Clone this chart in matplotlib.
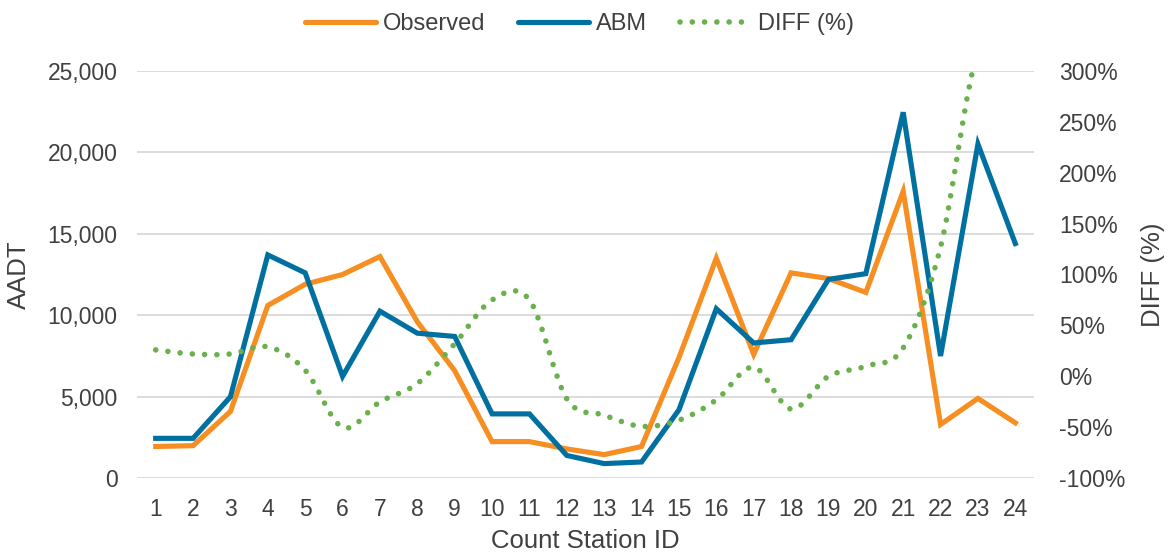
import numpy as np
import matplotlib
matplotlib.use("Agg")
import matplotlib.pyplot as plt
from matplotlib.path import Path
from matplotlib.patches import PathPatch
from matplotlib.lines import Line2D
from matplotlib.ticker import FuncFormatter, MultipleLocator

plt.rcParams['font.family'] = ['Liberation Sans', 'DejaVu Sans']

# data
stations = list(range(1, 25))
observed = [1950, 2000, 4100, 10600, 11900, 12500, 13600, 9600, 6600, 2250, 2250, 1800,
            1450, 1950, 7400, 13500, 7600, 12600, 12250, 11400, 17600, 3300, 4900, 3400]
abm = [2450, 2450, 5000, 13700, 12600, 6250, 10250, 8900, 8700, 3950, 3950, 1400,
       900, 1000, 4200, 10400, 8300, 8500, 12200, 12550, 22450, 7500, 20500, 14400]
diff_pct = [26, 22, 22, 29, 6, -50, -25, -7, 32, 75, 75, -22,
            -38, -49, -43, -23, 9, -32, 0, 10, 28, 127, 318, 324]

c_obs = '#F68E22'
c_abm = '#0070A0'
c_diff = '#6AB04C'
c_text = '#404040'


def smooth_path(x, y):
    # Excel-style smoothed line as cubic Bezier segments through the points
    pts = np.column_stack([x, y]).astype(float)
    verts = [pts[0]]
    codes = [Path.MOVETO]
    n = len(pts)
    for i in range(n - 1):
        p0 = pts[i - 1] if i > 0 else pts[i]
        p1 = pts[i]
        p2 = pts[i + 1]
        p3 = pts[i + 2] if i + 2 < n else pts[i + 1]
        verts += [p1 + (p2 - p0) / 6, p2 - (p3 - p1) / 6, p2]
        codes += [Path.CURVE4] * 3
    return Path(verts, codes)


fig = plt.figure(figsize=(11.71, 5.59), dpi=100)
ax = fig.add_axes([0.117, 0.1444, 0.766, 0.7291])
ax2 = ax.twinx()

ax.plot(stations, observed, color=c_obs, lw=3.7, solid_joinstyle='miter', zorder=3)
ax.plot(stations, abm, color=c_abm, lw=3.7, solid_joinstyle='miter', zorder=3)

dots = (0, (0.01, 2.2))
patch = PathPatch(smooth_path(stations, diff_pct), facecolor='none', edgecolor=c_diff,
                  lw=4.0, linestyle=dots, capstyle='round')
ax2.add_patch(patch)

ax.set_xlim(0.5, 24.5)
ax.set_ylim(0, 25000)
ax2.set_ylim(-100, 300)
ax.set_xticks(stations)
ax.yaxis.set_major_locator(MultipleLocator(5000))
ax2.yaxis.set_major_locator(MultipleLocator(50))
ax.yaxis.set_major_formatter(FuncFormatter(lambda v, p: f'{int(v):,}'))
ax2.yaxis.set_major_formatter(FuncFormatter(lambda v, p: f'{int(v)}%'))

ax.grid(axis='y', color='#D9D9D9', lw=1.3)
ax.set_axisbelow(True)
for a in (ax, ax2):
    for s in a.spines.values():
        s.set_visible(False)
    a.tick_params(length=0, labelsize=16.5, colors=c_text, pad=14)
ax.tick_params(axis='x', pad=14)
ax2.tick_params(axis='y', pad=18)

ax.set_xlabel('Count Station ID', fontsize=18.5, color=c_text, labelpad=6)
ax.set_ylabel('AADT', fontsize=18.5, color=c_text, labelpad=12)
ax2.set_ylabel('DIFF (%)', fontsize=18.5, color=c_text, labelpad=11)

handles = [Line2D([], [], color=c_obs, lw=3.7, solid_capstyle='round'),
           Line2D([], [], color=c_abm, lw=3.7, solid_capstyle='round'),
           Line2D([], [], color=c_diff, lw=4.0, linestyle=dots, dash_capstyle='round')]
fig.legend(handles, ['Observed', 'ABM', 'DIFF (%)'], loc='upper center', bbox_to_anchor=(0.495, 1.015),
           ncol=3, frameon=False, fontsize=17, handlelength=3.0, columnspacing=1.4,
           handletextpad=0.3, labelcolor=c_text)

fig.savefig('out.png', dpi=100)
